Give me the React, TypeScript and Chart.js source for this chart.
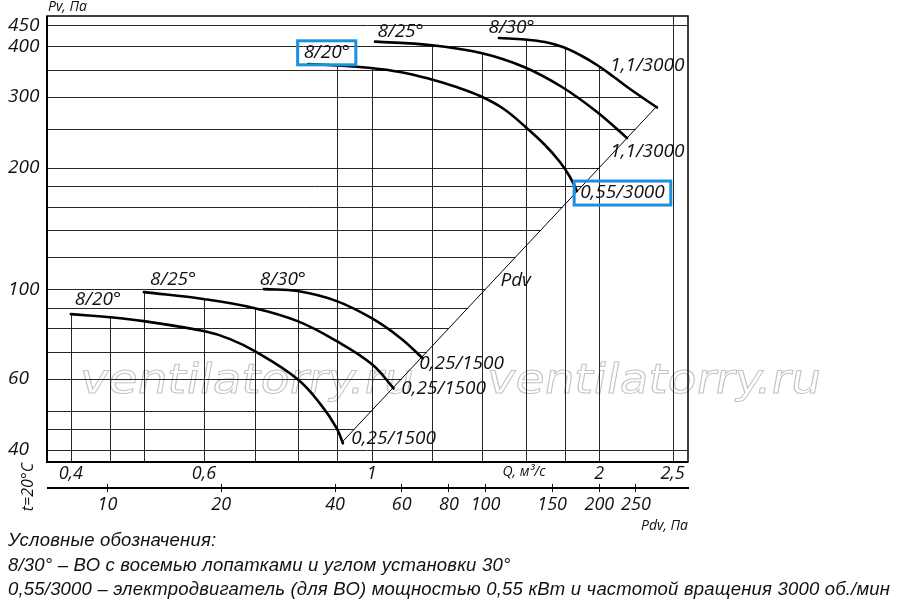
import React, { useEffect, useRef } from "react";
import { Chart, registerables } from "chart.js";

Chart.register(...registerables);

// ---- Curves at 3000 rpm (Q, m3/s ; Pv, Pa) ----
const up20Q = [0.824, 0.897, 0.998, 1.09, 1.194, 1.288, 1.391, 1.492, 1.595, 1.695, 1.774, 1.829, 1.868];
const up20P = [361.2, 358.2, 353.1, 345.1, 331.6, 317.7, 301.0, 280.3, 252.9, 227.6, 206.5, 189.6, 175.0];
const up25Q = [1.01, 1.194, 1.395, 1.59, 1.785, 1.986, 2.176];
const up25P = [410.3, 402.6, 384.6, 355.1, 316.8, 274.7, 236.8];
const up30Q = [1.473, 1.595, 1.695, 1.79, 1.886, 1.986, 2.091, 2.196, 2.384];
const up30P = [418.9, 415.4, 409.5, 398.0, 380.3, 359.2, 335.4, 313.2, 281.8];

// ---- Curves at 1500 rpm ----
const lo20Q = [0.4, 0.4506, 0.4996, 0.6016, 0.6496, 0.7003, 0.798, 0.856, 0.899, 0.916];
const lo20P = [86.7, 85.2, 83.3, 78.6, 75.2, 70.2, 59.8, 51.8, 45.2, 41.5];
const lo25Q = [0.4996, 0.6016, 0.7003, 0.798, 0.899, 1.0, 1.069];
const lo25P = [98.3, 94.4, 89.7, 83.3, 74.3, 65.2, 56.8];
const lo30Q = [0.72, 0.798, 0.899, 1.0, 1.092, 1.168];
const lo30P = [100, 98.9, 93.4, 84.7, 75.6, 67.4];

// ---- Dynamic pressure line Pdv ----
const pdvQ = [0.913, 2.385];
const pdvP = [41.7, 284.4];

// ---- Grid and ticks ----
const gridQ = [0.4, 0.45, 0.5, 0.6, 0.7, 0.8, 0.9, 1, 1.2, 1.4, 1.6, 1.8, 2, 2.5];
const gridP = [40, 45, 50, 60, 70, 80, 90, 100, 120, 140, 160, 180, 200, 250, 300, 350, 400, 450];
const qTickValues = [0.4, 0.6, 1, 2, 2.5];
const qTickLabels = ["0,4", "0,6", "1", "2", "2,5"];
const pTickValues = [40, 60, 100, 200, 300, 400, 450];
const pTickLabels = ["40", "60", "100", "200", "300", "400", "450"];
const pdvTickValues = [10, 20, 40, 60, 80, 100, 150, 200, 250];
const pdvTickLabels = ["10", "20", "40", "60", "80", "100", "150", "200", "250"];

const Q_MIN = 0.372;
const Q_MAX = 2.62;
const P_MIN = 37.3;
const P_MAX = 475;

// label anchors in data coordinates
const curveLabels = [
  { text: "8/20°", q: 0.872, p: 385, box: true },
  { text: "8/25°", q: 1.092, p: 434 },
  { text: "8/30°", q: 1.531, p: 444 },
  { text: "1,1/3000", q: 2.315, p: 357.6 },
  { text: "1,1/3000", q: 2.315, p: 218.8 },
  { text: "0,55/3000", q: 2.146, p: 173, box: true },
  { text: "Pdv", q: 1.55, p: 104.7 },
  { text: "8/20°", q: 0.4344, p: 94.4 },
  { text: "8/25°", q: 0.5462, p: 105.3 },
  { text: "8/30°", q: 0.763, p: 105.3 },
  { text: "0,25/1500", q: 1.315, p: 65.5 },
  { text: "0,25/1500", q: 1.245, p: 56.8 },
  { text: "0,25/1500", q: 1.069, p: 42.7 },
];

const legendLines = [
  "Условные обозначения:",
  "8/30° – ВО с восемью лопатками и углом установки 30°",
  "0,55/3000 – электродвигатель (для ВО) мощностью 0,55 кВт и частотой вращения 3000 об./мин",
];

const curves = [
  { q: up20Q, p: up20P },
  { q: up25Q, p: up25P },
  { q: up30Q, p: up30P },
  { q: lo20Q, p: lo20P },
  { q: lo25Q, p: lo25P },
  { q: lo30Q, p: lo30P },
];

const K_PDV = pdvP[1] / (pdvQ[1] * pdvQ[1]);

const FONT = '"Open Sans", "DejaVu Sans", sans-serif';
const LEGEND_FONT = '"Liberation Sans Narrow", "Liberation Sans", "DejaVu Sans", sans-serif';

function interpLog(xs: number[], ys: number[], x: number): number | null {
  if (x < xs[0] || x > xs[xs.length - 1]) return null;
  for (let i = 0; i < xs.length - 1; i++) {
    if (x >= xs[i] && x <= xs[i + 1]) {
      const t = (Math.log(x) - Math.log(xs[i])) / (Math.log(xs[i + 1]) - Math.log(xs[i]));
      return Math.exp(Math.log(ys[i]) + t * (Math.log(ys[i + 1]) - Math.log(ys[i])));
    }
  }
  return null;
}

function topAtQ(q: number): number | null {
  let best: number | null = null;
  for (const c of curves) {
    const v = interpLog(c.q, c.p, q);
    if (v !== null && (best === null || v > best)) best = v;
  }
  return best;
}

function rightAtP(p: number): number | null {
  if (p < pdvP[0]) return null;
  if (p <= pdvP[1]) return interpLog(pdvP, pdvQ, p);
  let best: number | null = null;
  for (const c of curves) {
    const v = interpLog([...c.p].reverse(), [...c.q].reverse(), p);
    if (v !== null && (best === null || v > best)) best = v;
  }
  return best;
}

const gridPlugin = {
  id: "opGrid",
  beforeDatasetsDraw(chart: any) {
    const { ctx, chartArea: a, scales } = chart;
    const x = scales.x;
    const y = scales.y;
    ctx.save();
    // watermark
    ctx.strokeStyle = "#c4c4c4";
    ctx.lineWidth = 1;
    ctx.font = `41px "DejaVu Sans", sans-serif`;
    const wm = "ventilatorry.ru";
    const w = ctx.measureText(wm).width;
    for (const x0 of [a.left + 31, a.left + 438]) {
      ctx.save();
      ctx.translate(x0, a.top + 377);
      ctx.transform(1, 0, -0.18, 1, 0, 0);
      ctx.scale(334 / w, 1);
      ctx.strokeText(wm, 0, 0);
      ctx.restore();
    }
    // grid
    ctx.strokeStyle = "#262626";
    ctx.lineWidth = 1;
    for (const q of gridQ) {
      const top = topAtQ(q);
      const px = Math.round(x.getPixelForValue(q)) + 0.5;
      const py = top === null ? a.top : y.getPixelForValue(top);
      ctx.beginPath();
      ctx.moveTo(px, a.bottom);
      ctx.lineTo(px, py);
      ctx.stroke();
    }
    for (const p of gridP) {
      const r = rightAtP(p);
      const py = Math.round(y.getPixelForValue(p)) + 0.5;
      const px = r === null ? a.right : x.getPixelForValue(r);
      ctx.beginPath();
      ctx.moveTo(a.left, py);
      ctx.lineTo(px, py);
      ctx.stroke();
    }
    // frame
    ctx.strokeStyle = "#000";
    ctx.lineWidth = 1.5;
    ctx.strokeRect(a.left, a.top, a.right - a.left, a.bottom - a.top);
    ctx.lineWidth = 2;
    ctx.beginPath();
    ctx.moveTo(a.left, a.top);
    ctx.lineTo(a.left, a.bottom);
    ctx.lineTo(a.right, a.bottom);
    ctx.stroke();
    ctx.restore();
  },
  afterDatasetsDraw(chart: any) {
    const { ctx, scales } = chart;
    const x = scales.x;
    const y = scales.y;
    ctx.save();
    ctx.fillStyle = "#111";
    ctx.textAlign = "center";
    ctx.textBaseline = "middle";
    ctx.font = `italic 19px ${FONT}`;
    for (const l of curveLabels) {
      const cx = x.getPixelForValue(l.q);
      const cy = y.getPixelForValue(l.p);
      ctx.fillText(l.text, cx, cy);
      if (l.box) {
        const tw = ctx.measureText(l.text).width;
        ctx.save();
        ctx.strokeStyle = "#1b8fe0";
        ctx.lineWidth = 3;
        ctx.strokeRect(cx - tw / 2 - 6, cy - 12, tw + 12, 24);
        ctx.restore();
      }
    }
    ctx.restore();
  },
  afterDraw(chart: any) {
    const { ctx, chartArea: a, scales } = chart;
    const x = scales.x;
    const xp = scales.xp;
    ctx.save();
    // Pdv axis line
    ctx.strokeStyle = "#000";
    ctx.lineWidth = 2;
    const ly = xp.top + 4;
    ctx.beginPath();
    ctx.moveTo(a.left, ly);
    ctx.lineTo(a.right + 1, ly);
    ctx.stroke();

    ctx.fillStyle = "#111";
    ctx.textBaseline = "middle";
    // axis titles
    ctx.font = `italic 14px ${FONT}`;
    ctx.textAlign = "left";
    ctx.fillText("Pv, Па", a.left + 1, a.top - 9);
    ctx.textAlign = "center";
    ctx.fillText("Q, м³/с", x.getPixelForValue(1.59), a.bottom + 10);
    ctx.save();
    ctx.font = `italic 16px ${FONT}`;
    ctx.translate(a.left - 19, a.bottom + 25);
    ctx.rotate(-Math.PI / 2);
    ctx.fillText("t=20°C", 0, 0);
    ctx.restore();

    // legend
    ctx.font = `italic 18.5px ${LEGEND_FONT}`;
    ctx.textAlign = "left";
    const base = ctx.measureText(legendLines[2]).width;
    const spacing = Math.max(0, (882 - base) / (legendLines[2].length - 1));
    if ("letterSpacing" in ctx) (ctx as any).letterSpacing = `${spacing}px`;
    legendLines.forEach((line, i) => {
      ctx.fillText(line, 8, xp.bottom + 7 + i * 24.5);
    });
    ctx.restore();
  },
};

function makeDataset(q: number[], p: number[], width: number) {
  return {
    data: q.map((v, i) => ({ x: v, y: p[i] })),
    borderColor: "#000",
    borderWidth: width,
    pointRadius: 0,
    fill: false,
    tension: 0.4,
    borderCapStyle: "round" as const,
  };
}

export default function App() {
  const ref = useRef<HTMLCanvasElement | null>(null);
  useEffect(() => {
    if (!ref.current) return;
    const tickFont = { family: FONT, size: 18, style: "italic" as const };
    const chart = new Chart(ref.current, {
      type: "line",
      data: {
        datasets: [
          makeDataset(up20Q, up20P, 2.6),
          makeDataset(up25Q, up25P, 2.6),
          makeDataset(up30Q, up30P, 2.6),
          makeDataset(lo20Q, lo20P, 2.6),
          makeDataset(lo25Q, lo25P, 2.6),
          makeDataset(lo30Q, lo30P, 2.6),
          { ...makeDataset(pdvQ, pdvP, 1), tension: 0 },
        ],
      },
      options: {
        animation: false,
        responsive: false,
        events: [],
        layout: { padding: { left: 8, top: 16, right: 212, bottom: 77 } },
        plugins: { legend: { display: false }, tooltip: { enabled: false }, title: { display: false } },
        scales: {
          x: {
            type: "logarithmic",
            position: "bottom",
            min: Q_MIN,
            max: Q_MAX,
            grid: { display: false, drawTicks: false },
            border: { display: false },
            afterBuildTicks: (s: any) => {
              s.ticks = qTickValues.map((v) => ({ value: v }));
            },
            afterFit: (s: any) => {
              s.height = 22;
            },
            ticks: {
              autoSkip: false,
              maxRotation: 0,
              padding: 1,
              color: "#111",
              font: tickFont,
              callback: (_v: any, i: number) => qTickLabels[i],
            },
          },
          xp: {
            type: "logarithmic",
            position: "bottom",
            min: K_PDV * Q_MIN * Q_MIN,
            max: K_PDV * Q_MAX * Q_MAX,
            grid: { display: true, drawOnChartArea: false, drawTicks: true, tickLength: 8, color: "#000", lineWidth: 1 },
            border: { display: false },
            afterBuildTicks: (s: any) => {
              s.ticks = pdvTickValues.map((v) => ({ value: v }));
            },
            afterFit: (s: any) => {
              s.height = 50;
            },
            ticks: {
              autoSkip: false,
              maxRotation: 0,
              padding: 2,
              color: "#111",
              font: tickFont,
              callback: (_v: any, i: number) => pdvTickLabels[i],
            },
            title: {
              display: true,
              text: "Pdv, Па",
              align: "end",
              color: "#111",
              padding: 0,
              font: { family: FONT, size: 14, style: "italic" },
            },
          },
          y: {
            type: "logarithmic",
            position: "left",
            min: P_MIN,
            max: P_MAX,
            grid: { display: false, drawTicks: false },
            border: { display: false },
            afterBuildTicks: (s: any) => {
              s.ticks = pTickValues.map((v) => ({ value: v }));
            },
            afterFit: (s: any) => {
              s.width = 39;
            },
            ticks: {
              autoSkip: false,
              crossAlign: "far",
              padding: 4,
              color: "#111",
              font: { family: FONT, size: 19, style: "italic" },
              callback: (_v: any, i: number) => pTickLabels[i],
            },
          },
        },
      },
      plugins: [gridPlugin],
    } as any);
    return () => chart.destroy();
  }, []);
  return (
    <div style={{ position: "fixed", left: 0, top: 0, width: 900, height: 611, background: "#fff" }}>
      <canvas ref={ref} width={900} height={611} style={{ width: 900, height: 611, display: "block" }} />
    </div>
  );
}
